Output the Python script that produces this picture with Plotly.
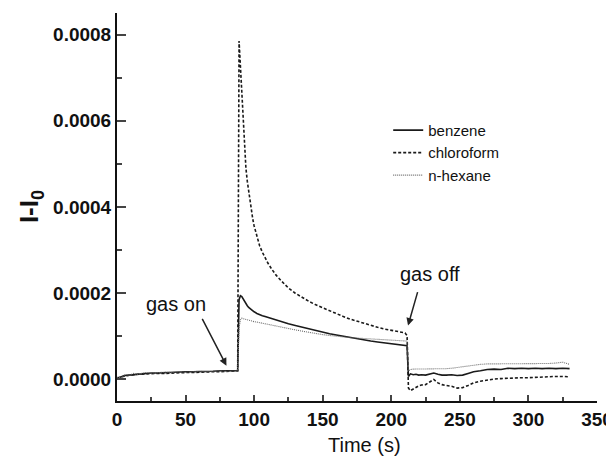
import plotly.graph_objects as go

# Time axis (s)
time_s = [0, 3, 6, 9, 12, 15, 20, 25, 30, 35, 40, 45, 50, 55, 60, 65, 70, 75, 80, 85, 88,
          89, 90, 91, 92, 93, 94, 95, 96, 97, 98, 99, 100, 102, 104, 106, 108, 110, 113, 116,
          120, 125, 130, 135, 140, 145, 150, 155, 160, 165, 170, 175, 180, 185, 190, 195,
          200, 205, 210, 211.5,
          212.5, 214, 216, 218, 220, 222, 225, 228, 231, 234, 237, 240, 244, 248, 252, 256,
          260, 265, 270, 275, 280, 285, 290, 295, 300, 305, 310, 315, 320, 325, 330]

benzene = [0.3e-5, 0.6e-5, 0.9e-5, 1.0e-5, 1.1e-5, 1.3e-5, 1.4e-5, 1.5e-5, 1.5e-5, 1.6e-5,
           1.6e-5, 1.7e-5, 1.8e-5, 1.8e-5, 1.8e-5, 1.9e-5, 1.9e-5, 2.0e-5, 2.0e-5, 2.0e-5, 2.0e-5,
           1.85e-4, 1.94e-4, 1.92e-4, 1.86e-4, 1.80e-4, 1.75e-4, 1.71e-4, 1.67e-4, 1.64e-4,
           1.61e-4, 1.59e-4, 1.57e-4, 1.53e-4, 1.50e-4, 1.48e-4, 1.46e-4, 1.44e-4, 1.40e-4,
           1.37e-4, 1.33e-4, 1.29e-4, 1.25e-4, 1.21e-4, 1.17e-4, 1.13e-4, 1.10e-4, 1.06e-4,
           1.03e-4, 1.00e-4, 0.98e-4, 0.95e-4, 0.92e-4, 0.89e-4, 0.87e-4, 0.85e-4, 0.83e-4,
           0.81e-4, 0.79e-4, 0.78e-4,
           0.7e-5, 1.3e-5, 1.1e-5, 1.2e-5, 1.0e-5, 1.1e-5, 1.0e-5, 1.2e-5, 1.5e-5, 1.2e-5,
           1.0e-5, 1.0e-5, 1.1e-5, 0.9e-5, 1.0e-5, 1.4e-5, 1.8e-5, 2.0e-5, 2.3e-5, 2.4e-5,
           2.3e-5, 2.6e-5, 2.5e-5, 2.6e-5, 2.5e-5, 2.6e-5, 2.5e-5, 2.6e-5, 2.5e-5, 2.6e-5, 2.5e-5]

chloroform = [0.2e-5, 0.6e-5, 0.8e-5, 1.0e-5, 1.1e-5, 1.2e-5, 1.3e-5, 1.3e-5, 1.4e-5, 1.4e-5,
              1.5e-5, 1.5e-5, 1.6e-5, 1.6e-5, 1.7e-5, 1.7e-5, 1.8e-5, 1.8e-5, 1.9e-5, 1.9e-5, 2.0e-5,
              7.85e-4, 7.2e-4, 6.5e-4, 5.9e-4, 5.3e-4, 4.9e-4, 4.6e-4, 4.35e-4, 4.1e-4,
              3.9e-4, 3.72e-4, 3.56e-4, 3.3e-4, 3.1e-4, 2.95e-4, 2.82e-4, 2.7e-4, 2.55e-4,
              2.42e-4, 2.28e-4, 2.12e-4, 2.0e-4, 1.9e-4, 1.81e-4, 1.73e-4, 1.66e-4, 1.59e-4,
              1.52e-4, 1.46e-4, 1.40e-4, 1.35e-4, 1.30e-4, 1.25e-4, 1.21e-4, 1.17e-4, 1.14e-4,
              1.11e-4, 1.08e-4, 1.02e-4,
              -2.0e-5, -2.6e-5, -2.2e-5, -1.8e-5, -1.5e-5, -1.3e-5, -1.2e-5, -0.6e-5, 0.0, -0.8e-5,
              -1.2e-5, -1.4e-5, -1.6e-5, -2.0e-5, -1.9e-5, -1.4e-5, -0.8e-5, -0.4e-5, -0.1e-5, 0.1e-5,
              0.2e-5, 0.3e-5, 0.3e-5, 0.4e-5, 0.4e-5, 0.5e-5, 0.6e-5, 0.6e-5, 0.7e-5, 0.7e-5, 0.6e-5]

n_hexane = [0.5e-5, 0.4e-5, 1.2e-5, 0.9e-5, 1.4e-5, 1.2e-5, 1.6e-5, 1.5e-5, 1.6e-5, 1.7e-5,
            1.6e-5, 1.8e-5, 1.7e-5, 1.8e-5, 1.9e-5, 1.8e-5, 1.9e-5, 2.0e-5, 1.9e-5, 2.0e-5, 2.0e-5,
            1.2e-4, 1.38e-4, 1.42e-4, 1.41e-4, 1.40e-4, 1.39e-4, 1.38e-4, 1.37e-4, 1.36e-4,
            1.35e-4, 1.34e-4, 1.34e-4, 1.33e-4, 1.32e-4, 1.30e-4, 1.29e-4, 1.28e-4, 1.26e-4,
            1.24e-4, 1.21e-4, 1.18e-4, 1.15e-4, 1.12e-4, 1.09e-4, 1.06e-4, 1.04e-4, 1.02e-4,
            1.00e-4, 0.98e-4, 0.97e-4, 0.96e-4, 0.95e-4, 0.94e-4, 0.93e-4, 0.92e-4, 0.92e-4,
            0.91e-4, 0.90e-4, 0.89e-4,
            2.0e-5, 2.3e-5, 2.4e-5, 2.4e-5, 2.4e-5, 2.5e-5, 2.4e-5, 2.4e-5, 2.5e-5, 2.4e-5,
            2.4e-5, 2.5e-5, 2.6e-5, 2.8e-5, 2.9e-5, 3.1e-5, 3.3e-5, 3.5e-5, 3.6e-5, 3.6e-5,
            3.7e-5, 3.7e-5, 3.7e-5, 3.6e-5, 3.7e-5, 3.7e-5, 3.6e-5, 3.7e-5, 3.8e-5, 4.0e-5, 3.5e-5]

x_ticks = [0, 50, 100, 150, 200, 250, 300, 350]
y_ticks = [0.0, 0.0002, 0.0004, 0.0006, 0.0008]
y_tick_labels = ["0.0000", "0.0002", "0.0004", "0.0006", "0.0008"]

FONT = "Arial, 'Liberation Sans', sans-serif"

fig = go.Figure()
fig.add_trace(go.Scatter(x=time_s, y=benzene, mode="lines", name="benzene",
                         line=dict(color="#1a1a1a", width=1.6)))
fig.add_trace(go.Scatter(x=time_s, y=chloroform, mode="lines", name="chloroform",
                         line=dict(color="#1a1a1a", width=1.6, dash="3px,2px")))
fig.add_trace(go.Scatter(x=time_s, y=n_hexane, mode="lines", name="n-hexane",
                         line=dict(color="#6a6a6a", width=1.1, dash="1px,1px")))

# the page body keeps an 8px margin, so the figure is 8px smaller and margins are shifted
fig.update_layout(
    template="none",
    width=606, height=453,
    margin=dict(l=109, r=17, t=5, b=60, autoexpand=False),
    paper_bgcolor="white", plot_bgcolor="white",
    font=dict(family=FONT, color="#111"),
    showlegend=True,
    legend=dict(x=0.565, y=0.74, xanchor="left", yanchor="top",
                bgcolor="rgba(0,0,0,0)", font=dict(size=15, family=FONT),
                tracegroupgap=0),
    xaxis=dict(range=[0, 350], tickvals=x_ticks, ticks="inside", ticklen=6, tickwidth=2,
               automargin=False,
               showline=True, linewidth=2, linecolor="#111", showgrid=False, zeroline=False,
               tickfont=dict(size=19, family=FONT, weight="bold"),
               minor=dict(ticks="inside", ticklen=4, tickwidth=2, dtick=25, showgrid=False)),
    yaxis=dict(range=[-0.00005, 0.00085], tickvals=y_ticks, ticktext=y_tick_labels,
               ticks="inside", ticklen=9, tickwidth=2, automargin=False,
               showline=True, linewidth=2, linecolor="#111", showgrid=False, zeroline=False,
               tickfont=dict(size=19, family=FONT, weight="bold"),
               minor=dict(ticks="inside", ticklen=5, tickwidth=2, dtick=0.0001, showgrid=False)),
)

fig.add_annotation(text="Time (s)", xref="paper", yref="paper", x=0.515, y=-0.113,
                   xanchor="center", yanchor="middle",
                   showarrow=False, font=dict(size=20, family=FONT))
fig.add_annotation(text="I-I<sub>0</sub>", xref="paper", yref="paper", x=-0.181, y=0.5,
                   xanchor="center", yanchor="middle",
                   textangle=-90, showarrow=False, font=dict(size=26, family=FONT, weight="bold"))

# annotation labels
fig.add_annotation(text="gas on", x=42.8, y=1.75e-4, xref="x", yref="y",
                   xanchor="center", yanchor="middle", showarrow=False,
                   font=dict(size=20, family=FONT))
fig.add_annotation(text="gas off", x=228.1, y=2.445e-4, xref="x", yref="y",
                   xanchor="center", yanchor="middle", showarrow=False,
                   font=dict(size=20, family=FONT))
# arrows
fig.add_annotation(text="", x=79.8, y=3.2e-5, ax=61.6, ay=1.44e-4,
                   axref="x", ayref="y", xref="x", yref="y",
                   showarrow=True, arrowhead=2, arrowsize=1, arrowwidth=1.5, arrowcolor="#222",
                   standoff=0, startstandoff=0)
fig.add_annotation(text="", x=212.2, y=1.25e-4, ax=219.5, ay=2.06e-4,
                   axref="x", ayref="y", xref="x", yref="y",
                   showarrow=True, arrowhead=2, arrowsize=1, arrowwidth=1.5, arrowcolor="#222",
                   standoff=0, startstandoff=0)

fig.write_html("out.html")
